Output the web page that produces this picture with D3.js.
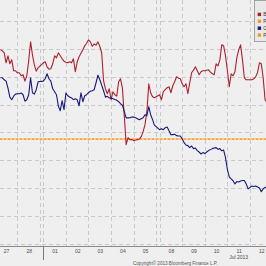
<!DOCTYPE html>
<html><head><meta charset="utf-8">
<script src="https://cdn.jsdelivr.net/npm/d3@7"></script>
<style>html,body{margin:0;padding:0;background:#efefef;overflow:hidden}</style>
</head><body><svg id="c" width="266" height="266"></svg>
<script>
// ---- data ----
const dayLabels = ["27","28","01","02","03","04","05","08","09","10","11","12"];
const monthLabel = "Jul 2013";
const monthLabelDay = 10;        // month caption sits under this day
const monthStartDay = 2;         // "01" starts July
const weekendBeforeDay = [2, 7]; // weekend breaks before these day indexes
const samplesPerDay = 12;        // 2-hour samples
const firstSample = 3;           // first visible sample of day 0
const legendLabels = ["Bid Yield", "Prev Close", "Comp Yield", "Prev Close"];
const copyright = "Copyright\u00A9 2013 Bloomberg Finance L.P.";

const redValues = [
  97.4, 96.9, 95.9, 90.9, 94.4, 90.4, 92.4, 86.9, 86.9,
  85.9, 85.9, 84.4, 84.9, 81.7, 84.4, 91.9, 101.4, 94.9, 89.9, 86.7, 88.4,
  90.9, 91.4, 88.9, 87.7, 87.9, 90.4, 94.4, 93.4, 95.9, 94.4, 92.9, 91.7,
  91.2, 90.9, 91.4, 90.9, 92.9, 86.4, 91.4, 93.9, 95.7, 97.4, 99.4, 100.7,
  102.4, 101.4, 99.2, 100.4, 99.7, 101.4, 99.2, 95.9, 81.9, 77.9, 75.4, 77.9,
  72.4, 76.4, 74.9, 74.2, 81.4, 82.9, 78.2, 64.4, 49.9, 53.4, 52.4, 52.4,
  51.9, 52.2, 52.4, 52.7, 53.9, 56.4, 59.9, 66.4, 80.4, 75.9, 73.9, 73.4,
  74.9, 72.4, 76.4, 77.4, 78.4, 78.9, 75.9, 79.4, 81.4, 83.9, 83.2, 82.9,
  80.4, 78.9, 80.4, 75.4, 80.9, 85.9, 87.2, 88.9, 86.9, 84.9, 86.4, 86.9,
  86.9, 87.2, 87.4, 86.2, 85.4, 84.9, 90.4, 89.4, 92.4, 99.9, 99.4, 94.4,
  86.9, 78.9, 85.4, 84.4, 86.4, 93.4, 97.4, 99.9, 92.4, 83.4, 82.4, 82.4,
  82.4, 82.4, 82.9, 83.9, 85.9, 90.9, 90.4, 83.4, 72.4, 70.9
];
const navyValues = [
  83.4, 83.4, 82.4, 81.7, 78.2, 73.7, 72.4, 74.2, 75.2,
  75.4, 75.4, 75.8, 74.9, 71.7, 72.4, 74.9, 83.4, 75.9, 75.2, 77.4, 81.4,
  81.7, 82.9, 85.4, 82.9, 81.7, 77.9, 76.4, 74.9, 69.2, 66.9, 71.9, 67.4,
  75.7, 74.4, 73.7, 73.3, 72.4, 72.9, 72.4, 69.4, 75.9, 71.4, 74.4, 74.9,
  75.9, 76.7, 76.9, 77.4, 80.9, 84.7, 82.4, 79.7, 76.9, 73.7, 74.1, 73.3,
  73.2, 72.9, 72.5, 72.2, 71.4, 70.4, 69.7, 66.4, 63.3, 63.3, 63.4, 63.7,
  63.7, 63.4, 62.9, 62.4, 62.9, 63.4, 64.9, 64.4, 68.9, 64.9, 62.4, 59.7,
  57.4, 57.9, 57.4, 58.4, 58.7, 56.9, 54.9, 54.9, 55.1, 54.4, 54.2, 54.2,
  52.9, 50.9, 49.7, 49.4, 48.4, 49.2, 47.9, 48.2, 46.9, 46.2, 45.2, 45.9,
  45.4, 46.2, 46.9, 47.4, 47.9, 48.2, 48.4, 47.6, 47.9, 46.8, 47.2, 43.4,
  37.4, 33.7, 32.7, 31.8, 30.2, 31.4, 31.2, 31.7, 31.9, 31.9, 30.2, 27.7,
  28.4, 29.2, 28.9, 29.2, 28.7, 28.2, 26.3, 27.7, 28.4, 28.9
];
const prevCloseA = 52.7;
const prevCloseB = 52.7;
const gridLevels = [0, 14, 28, 42, 56, 70, 84, 98, 112];

// ---- layout / styles ----
const W = 266, H = 266, axisY = 246.5;
const weekendGap = 0.146;
const colors = {red:"#ad1f2d", navy:"#16187a", orange:"#f39a2e", orangeLight:"#f8c27a", grid:"#c9c9c9"};

function weekendsBefore(k){ return weekendBeforeDay.filter(d => k >= d).length; }
function dayStart(k){ return k + weekendGap * weekendsBefore(k); }
function sampleUnit(i){
  const s = i + firstSample, k = Math.floor(s / samplesPerDay), j = s % samplesPerDay;
  return dayStart(k) + j / samplesPerDay;
}
const totalUnits = dayStart(dayLabels.length - 1) + 1;

const x = d3.scaleLinear().domain([0, totalUnits]).range([-5.2, -5.2 + 22.6 * totalUnits]);
const y = d3.scaleLinear().domain([0, 112]).range([244.2, 20.7]);

const svg = d3.select("#c");
svg.append("rect").attr("width", W).attr("height", H).attr("fill", "#efefef");

svg.append("defs").append("clipPath").attr("id","plot")
  .append("rect").attr("x",0).attr("y",0).attr("width",W).attr("height",axisY);

// grid: horizontal
svg.append("g").selectAll("line").data(gridLevels).join("line")
  .attr("x1", 0).attr("x2", W)
  .attr("y1", d => Math.round(y(d)) + 0.5).attr("y2", d => Math.round(y(d)) + 0.5)
  .attr("stroke", colors.grid).attr("stroke-width", 1).attr("stroke-dasharray", "4,3");

// grid: vertical at day boundaries (both sides of weekend breaks)
const boundaries = [];
for (let k = 1; k < dayLabels.length; k++) {
  if (weekendBeforeDay.includes(k)) boundaries.push(dayStart(k - 1) + 1);
  boundaries.push(dayStart(k));
}
svg.append("g").selectAll("line").data(boundaries).join("line")
  .attr("x1", d => Math.round(x(d)) + 0.5).attr("x2", d => Math.round(x(d)) + 0.5)
  .attr("y1", 0).attr("y2", axisY)
  .attr("stroke", colors.grid).attr("stroke-width", 1).attr("stroke-dasharray", "4,3");

const plot = svg.append("g").attr("clip-path", "url(#plot)");

// previous close reference lines
plot.append("line").attr("x1",0).attr("x2",W)
  .attr("y1", y(prevCloseA)).attr("y2", y(prevCloseA))
  .attr("stroke", colors.orangeLight).attr("stroke-width", 1.6);
plot.append("line").attr("x1",0).attr("x2",W)
  .attr("y1", y(prevCloseB)).attr("y2", y(prevCloseB))
  .attr("stroke", colors.orange).attr("stroke-width", 1.2).attr("stroke-dasharray","2,2");

const line = d3.line().x((d,i) => x(sampleUnit(i))).y(d => y(d));
plot.append("path").datum(redValues).attr("d", line)
  .attr("fill","none").attr("stroke", colors.red).attr("stroke-width", 1.1).attr("stroke-linejoin","round");
plot.append("path").datum(navyValues).attr("d", line)
  .attr("fill","none").attr("stroke", colors.navy).attr("stroke-width", 1.1).attr("stroke-linejoin","round");

// x axis
const axis = d3.axisBottom(x)
  .tickValues(dayLabels.map((d,k) => dayStart(k) + 0.5))
  .tickFormat((d,i) => dayLabels[i])
  .tickSize(0).tickPadding(2.5);
const ax = svg.append("g").attr("transform", `translate(0,${axisY})`).call(axis);
ax.select(".domain").attr("stroke", "#8a8a8a").attr("stroke-width", 1).attr("d", `M0,0H${W}`);
ax.selectAll("text").attr("font-family","Liberation Sans, Arial, sans-serif").attr("font-size", 5).attr("fill","#4a4a4a");

// month separator tick
svg.append("line")
  .attr("x1", Math.round(x(dayStart(monthStartDay))) + 0.5).attr("x2", Math.round(x(dayStart(monthStartDay))) + 0.5)
  .attr("y1", axisY).attr("y2", 260).attr("stroke", "#7a7a7a").attr("stroke-width", 1);

svg.append("text").attr("x", x(dayStart(monthLabelDay) + 0.5)).attr("y", 258.5)
  .attr("text-anchor","middle").attr("font-family","Liberation Sans, Arial, sans-serif")
  .attr("font-size", 5).attr("fill","#4a4a4a").text(monthLabel);

svg.append("text").attr("x", 133).attr("y", 265)
  .attr("font-family","Liberation Sans, Arial, sans-serif")
  .attr("font-size", 4.6).attr("fill","#555").text(copyright);

// legend
const lg = svg.append("g");
lg.append("rect").attr("x", 254.5).attr("y", 0.5).attr("width", 20).attr("height", 41)
  .attr("fill", "#e9e9e9").attr("stroke", "#a3a3a3").attr("stroke-width", 1);
const legendColors = [colors.red, colors.orange, colors.navy, colors.orange];
const li = lg.selectAll("g.item").data(legendLabels).join("g").attr("class","item")
  .attr("transform", (d,i) => `translate(257.7,${12.7 + i * 6.9})`);
li.append("rect").attr("width", 3.4).attr("height", 3.4).attr("fill", (d,i) => legendColors[i]);
li.append("text").attr("x", 5.6).attr("y", 3.6)
  .attr("font-family","Liberation Sans, Arial, sans-serif").attr("font-size", 5).attr("fill","#333").text(d => d);
</script>
</body></html>
